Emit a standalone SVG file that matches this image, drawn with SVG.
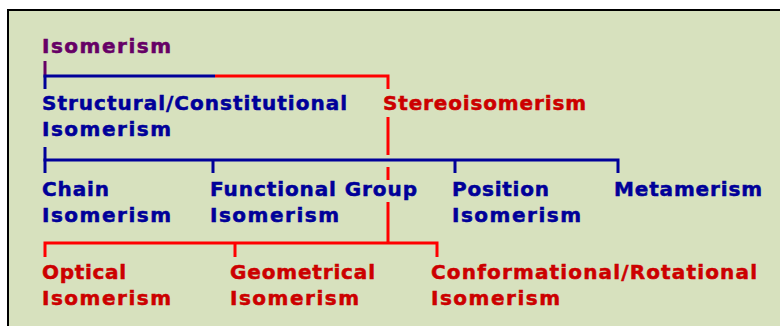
<svg xmlns="http://www.w3.org/2000/svg" width="780" height="326" viewBox="0 0 780 326">
<style>
text{font-family:"DejaVu Sans","Verdana",sans-serif;font-weight:bold;font-size:20px;stroke-width:0.5px}
.p{fill:#660066;stroke:#660066}
.b{fill:#000099;stroke:#000099}
.r{fill:#cc0000;stroke:#cc0000}
.lb{stroke:#000099;stroke-width:3;fill:none}
.lr{stroke:#ff0000;stroke-width:3;fill:none}
.lp{stroke:#660066;stroke-width:3;fill:none}
</style>
<rect x="0" y="0" width="780" height="326" fill="#ffffff"/>
<rect x="8" y="10" width="790" height="330" fill="#d7e1be" stroke="#000000" stroke-width="2"/>
<g id="connectors">
<line class="lp" x1="45" y1="61" x2="45" y2="76"/>
<line class="lb" x1="45" y1="76" x2="45" y2="89"/>
<line class="lb" x1="43.5" y1="76" x2="215" y2="76"/>
<polyline class="lr" points="215,76 388,76 388,89"/>
<line class="lr" x1="388" y1="117" x2="388" y2="155"/>
<line class="lr" x1="388" y1="167" x2="388" y2="180"/>
<line class="lr" x1="388" y1="202" x2="388" y2="243"/>
<line class="lb" x1="45" y1="147" x2="45" y2="173"/>
<polyline class="lb" points="43.5,160 618,160 618,173"/>
<line class="lb" x1="213" y1="160" x2="213" y2="173"/>
<line class="lb" x1="455" y1="160" x2="455" y2="173"/>
<polyline class="lr" points="45,257 45,243 437,243 437,257"/>
<line class="lr" x1="235" y1="243" x2="235" y2="257"/>
</g>
<g id="isomerism"><text class="p" x="42" y="53" textLength="129" lengthAdjust="spacing">Isomerism</text></g>
<g id="structural"><text class="b" x="42" y="110" textLength="305" lengthAdjust="spacing">Structural/Constitutional</text><text class="b" x="42" y="136" textLength="129" lengthAdjust="spacing">Isomerism</text></g>
<g id="stereo"><text class="r" x="383" y="110" textLength="203" lengthAdjust="spacing">Stereoisomerism</text></g>
<g id="chain"><text class="b" x="42" y="196" textLength="67" lengthAdjust="spacing">Chain</text><text class="b" x="42" y="222" textLength="129" lengthAdjust="spacing">Isomerism</text></g>
<g id="functional"><text class="b" x="210" y="196" textLength="207" lengthAdjust="spacing">Functional Group</text><text class="b" x="210" y="222" textLength="129" lengthAdjust="spacing">Isomerism</text></g>
<g id="position"><text class="b" x="452" y="196" textLength="97" lengthAdjust="spacing">Position</text><text class="b" x="452" y="222" textLength="129" lengthAdjust="spacing">Isomerism</text></g>
<g id="metamerism"><text class="b" x="614" y="196" textLength="148" lengthAdjust="spacing">Metamerism</text></g>
<g id="optical"><text class="r" x="42" y="279" textLength="84" lengthAdjust="spacing">Optical</text><text class="r" x="42" y="305" textLength="129" lengthAdjust="spacing">Isomerism</text></g>
<g id="geometrical"><text class="r" x="230" y="279" textLength="145" lengthAdjust="spacing">Geometrical</text><text class="r" x="230" y="305" textLength="129" lengthAdjust="spacing">Isomerism</text></g>
<g id="conformational"><text class="r" x="431" y="279" textLength="326" lengthAdjust="spacing">Conformational/Rotational</text><text class="r" x="431" y="305" textLength="129" lengthAdjust="spacing">Isomerism</text></g>
</svg>
